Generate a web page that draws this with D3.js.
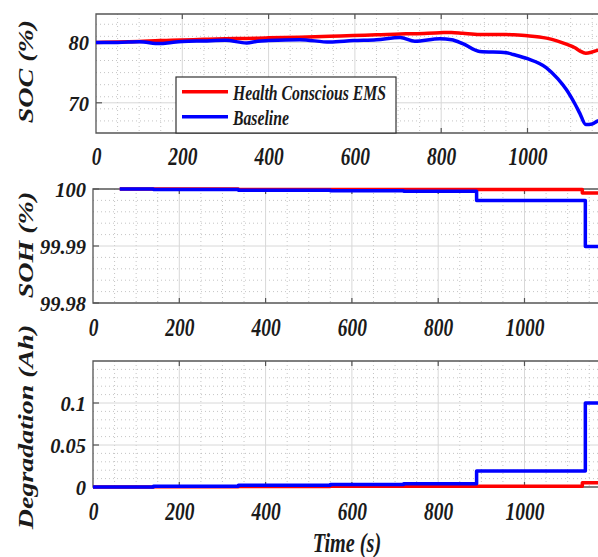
<!DOCTYPE html>
<html><head><meta charset="utf-8">
<script src="https://cdn.jsdelivr.net/npm/d3@7"></script>
<style>body{margin:0;background:#fff}svg{display:block}</style>
</head><body>
<script>
// ---- data ----
const seriesNames = ["Health Conscious EMS", "Baseline"];
const seriesColors = ["#ff0000", "#0000ff"];

const socTime = [0,50,100,148,175,200,250,300,349,375,400,472,542,596,650,705,739,797,824,850,889,951,967,1000,1044,1070,1090,1110,1121,1135,1150,1163,1175];
const socHealth = [80.0,80.05,80.15,80.3,80.35,80.4,80.5,80.6,80.65,80.7,80.75,80.85,81.0,81.15,81.25,81.4,81.45,81.6,81.65,81.5,81.3,81.3,81.25,81.1,80.7,80.2,79.7,79.1,78.6,78.2,78.4,78.7,78.8];
const socBase   = [80.0,80.0,80.1,79.8,80.0,80.15,80.25,80.35,79.9,80.2,80.3,80.45,80.05,80.3,80.45,80.8,80.2,80.6,80.45,79.8,78.5,78.3,78.0,77.3,75.8,74.0,72.2,69.8,68.3,66.4,66.5,67.0,67.2];

const sohTimeHealth = [62,337,1134,1175];
const sohHealth     = [100,99.9999,99.9993,99.9993];
const sohTimeBase   = [62,140,337,550,720,889,1141,1175];
const sohBase       = [100,99.9999,99.9998,99.9997,99.9996,99.998,99.9899,99.9899];

const degTimeHealth = [0,140,337,550,720,1134,1175];
const degHealth     = [0,0.0003,0.0006,0.0008,0.001,0.005,0.005];
const degTimeBase   = [0,140,337,550,720,889,1141,1175];
const degBase       = [0,0.001,0.002,0.003,0.004,0.019,0.1,0.1];

const xTicks = [0,200,400,600,800,1000];
const socTicks = [70,80];
const sohTicks = [99.98,99.99,100];
const degTicks = [0,0.05,0.1];
const yTitles = ["SOC (%)", "SOH (%)", "Degradation (Ah)"];
const xTitle = "Time (s)";

// ---- drawing ----
const W = 598, H = 557;
const svg = d3.select("body").append("svg").attr("width", W).attr("height", H);
const FONT = "'Liberation Serif','Times New Roman',serif";

const panels = [
  {x0:96, y0:14, y1:133, dom:[65,84.7], ticks:socTicks, minor:2, fmt:d=>d3.format("d")(d),
   series:[[socTime,socHealth],[socTime,socBase]], step:false, title:yTitles[0], tcy:71.5},
  {x0:93, y0:189, y1:303, dom:[99.98,100], ticks:sohTicks, minor:0.002, fmt:d=>d===100?"100":d3.format(".2f")(d),
   series:[[sohTimeHealth,sohHealth],[sohTimeBase,sohBase]], step:true, title:yTitles[1], tcy:245},
  {x0:93, y0:361, y1:487, dom:[0,0.15], ticks:degTicks, minor:0.01, fmt:d=>d===0?"0":String(d),
   series:[[degTimeHealth,degHealth],[degTimeBase,degBase]], step:true, title:yTitles[2], tcy:427}
];

panels.forEach((p,pi) => {
  const x = d3.scaleLinear().domain([0,1200]).range([p.x0, p.x0 + 1.2*431.5]);
  const y = d3.scaleLinear().domain(p.dom).range([p.y1, p.y0]);
  const g = svg.append("g");
  const xr = x.range();

  // minor grid
  const xMinor = d3.range(50, 1200, 50).filter(v => v % 200 !== 0);
  g.selectAll(null).data(xMinor).join("line")
    .attr("x1", d=>x(d)).attr("x2", d=>x(d)).attr("y1", p.y0).attr("y2", p.y1)
    .attr("stroke", "#b5b5b5").attr("stroke-width", 0.8).attr("stroke-dasharray", "1,3");
  const nMin = Math.round((p.dom[1]-p.dom[0])/p.minor);
  const yMinor = d3.range(0, nMin+1).map(i => p.dom[0] + i*p.minor)
    .filter(v => v > p.dom[0] + 1e-9 && v < p.dom[1] - 1e-9 && !p.ticks.some(t => Math.abs(t-v) < p.minor/10));
  g.selectAll(null).data(yMinor).join("line")
    .attr("x1", xr[0]).attr("x2", xr[1]).attr("y1", d=>y(d)).attr("y2", d=>y(d))
    .attr("stroke", "#b5b5b5").attr("stroke-width", 0.8).attr("stroke-dasharray", "1,3");

  // major grid
  g.selectAll(null).data(xTicks.concat([1200]).filter(v=>v>0)).join("line")
    .attr("x1", d=>x(d)).attr("x2", d=>x(d)).attr("y1", p.y0).attr("y2", p.y1)
    .attr("stroke", "#d8d8d8").attr("stroke-width", 1);
  g.selectAll(null).data(p.ticks.filter(v=>v>p.dom[0] && v<p.dom[1])).join("line")
    .attr("x1", xr[0]).attr("x2", xr[1]).attr("y1", d=>y(d)).attr("y2", d=>y(d))
    .attr("stroke", "#d8d8d8").attr("stroke-width", 1);

  // box
  g.append("path").attr("d", `M${xr[1]},${p.y0}H${xr[0]}V${p.y1}H${xr[1]}`)
    .attr("fill", "none").attr("stroke", "#555").attr("stroke-width", 1.3);
  // inward ticks
  g.selectAll(null).data(xTicks.filter(v=>v>0)).join("path")
    .attr("d", d=>`M${x(d)},${p.y0}v5M${x(d)},${p.y1}v-5`)
    .attr("stroke", "#555").attr("stroke-width", 1.2);
  g.selectAll(null).data(p.ticks).join("path")
    .attr("d", d=>`M${xr[0]},${y(d)}h6`)
    .attr("stroke", "#555").attr("stroke-width", 1.2);

  // axes labels
  const ax = g.append("g").attr("transform", `translate(0,${p.y1})`)
    .call(d3.axisBottom(x).tickValues(xTicks).tickSize(0).tickFormat(d3.format("d")));
  ax.select(".domain").remove();
  ax.selectAll("text").attr("y", pi===0?32:33).attr("dy", null)
    .attr("transform", "scale(0.78,1)")
    .style("font-family", FONT).style("font-weight", "bold").style("font-style", "italic")
    .style("font-size", "25px").attr("fill", "#1a1a1a");

  const ay = g.append("g").attr("transform", `translate(${xr[0]},0)`)
    .call(d3.axisLeft(y).tickValues(p.ticks).tickSize(0).tickFormat(p.fmt));
  ay.select(".domain").remove();
  ay.selectAll("text").attr("x", -7).attr("dy", "0.36em")
    .style("font-family", FONT).style("font-weight", "bold").style("font-style", "italic")
    .style("font-size", "20.5px").attr("fill", "#1a1a1a");

  // y title
  svg.append("g").attr("transform", `translate(33,${p.tcy}) scale(0.75,1) rotate(-90)`)
    .append("text").attr("text-anchor", "middle")
    .style("font-family", FONT).style("font-weight", "bold").style("font-style", "italic")
    .style("font-size", "28px").attr("fill", "#1a1a1a").text(p.title);

  // lines
  p.series.forEach((s,si) => {
    const pts = s[0].map((t,i)=>[t, s[1][i]]);
    const line = d3.line().x(d=>x(d[0])).y(d=>y(d[1]))
      .curve(p.step ? d3.curveStepAfter : d3.curveMonotoneX);
    svg.append("path").datum(pts).attr("d", line)
      .attr("fill", "none").attr("stroke", seriesColors[si]).attr("stroke-width", 3.5)
      .attr("stroke-linejoin", "round");
  });

  p.x = x;
});

// legend
const lg = svg.append("g");
lg.append("rect").attr("x", 176).attr("y", 77).attr("width", 220).attr("height", 56)
  .attr("fill", "#fff").attr("stroke", "#333").attr("stroke-width", 1.2);
seriesNames.forEach((n,i) => {
  const yy = 91.7 + i*25;
  lg.append("line").attr("x1", 182).attr("x2", 228).attr("y1", yy).attr("y2", yy)
    .attr("stroke", seriesColors[i]).attr("stroke-width", 3.5);
  lg.append("g").attr("transform", `translate(233,${yy+8.5}) scale(0.75,1)`)
    .append("text").style("font-family", FONT).style("font-weight", "bold").style("font-style", "italic")
    .style("font-size", "21px").attr("fill", "#1a1a1a").text(n);
});

// x title
svg.append("g").attr("transform", `translate(347,552) scale(0.75,1)`)
  .append("text").attr("text-anchor", "middle")
  .style("font-family", FONT).style("font-weight", "bold").style("font-style", "italic")
  .style("font-size", "27px").attr("fill", "#1a1a1a").text(xTitle);
</script>
</body></html>
